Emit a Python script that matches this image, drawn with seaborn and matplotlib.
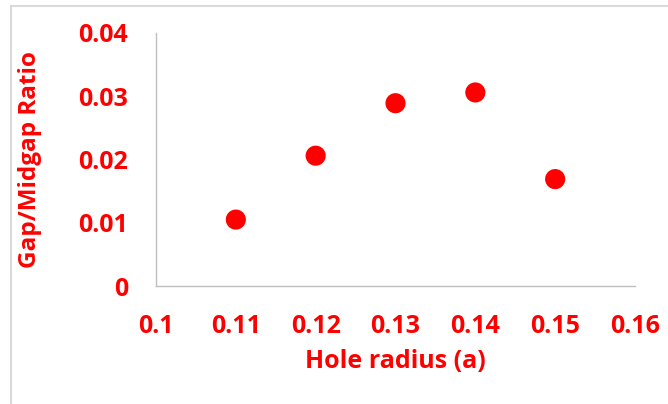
import matplotlib
matplotlib.use("Agg")
import matplotlib.pyplot as plt
import seaborn as sns
import pandas as pd
from matplotlib.lines import Line2D

hole_radius = [0.11, 0.12, 0.13, 0.14, 0.15]
gap_ratio = [0.0105, 0.0206, 0.0289, 0.0306, 0.0169]
x_ticks = [0.10, 0.11, 0.12, 0.13, 0.14, 0.15, 0.16]
x_tick_labels = ["0.1", "0.11", "0.12", "0.13", "0.14", "0.15", "0.16"]
y_ticks = [0.0, 0.01, 0.02, 0.03, 0.04]
y_tick_labels = ["0", "0.01", "0.02", "0.03", "0.04"]

sns.set_theme(style="white")
plt.rcParams['font.family'] = ['Open Sans', 'DejaVu Sans']

RED = "#FF0000"
df = pd.DataFrame({"r": hole_radius, "g": gap_ratio})

fig = plt.figure(figsize=(6.68, 4.04), dpi=100)
ax = fig.add_axes([156/668, 1-286/404, (635-156)/668, (286-33)/404])
sns.scatterplot(data=df, x="r", y="g", ax=ax, color=RED, s=210, edgecolor="none", linewidth=0)

ax.set_xlim(0.10, 0.16)
ax.set_ylim(0.0, 0.04)
ax.set_xticks(x_ticks)
ax.set_xticklabels(x_tick_labels)
ax.set_yticks(y_ticks)
ax.set_yticklabels(y_tick_labels)
ax.tick_params(axis="both", length=0, labelsize=18, labelcolor=RED)
ax.tick_params(axis="x", pad=20)
ax.tick_params(axis="y", pad=20)
for lab in ax.get_xticklabels() + ax.get_yticklabels():
    lab.set_fontweight("bold")

for side in ["top", "right"]:
    ax.spines[side].set_visible(False)
for side in ["left", "bottom"]:
    ax.spines[side].set_color("#BFBFBF")
    ax.spines[side].set_linewidth(1.0)

ax.set_xlabel("Hole radius (a)", fontsize=18, fontweight="bold", color=RED, labelpad=7)
ax.set_ylabel("Gap/Midgap Ratio", fontsize=17.5, fontweight="bold", color=RED, labelpad=26)

# outer frame lines (top and left)
fig.add_artist(Line2D([10.5/668, 1.0], [1-5.5/404, 1-5.5/404], transform=fig.transFigure, color="#D9D9D9", lw=1.5))
fig.add_artist(Line2D([10.5/668, 10.5/668], [0.0, 1-5.5/404], transform=fig.transFigure, color="#D9D9D9", lw=1.5))

fig.savefig("out.png", dpi=100)
